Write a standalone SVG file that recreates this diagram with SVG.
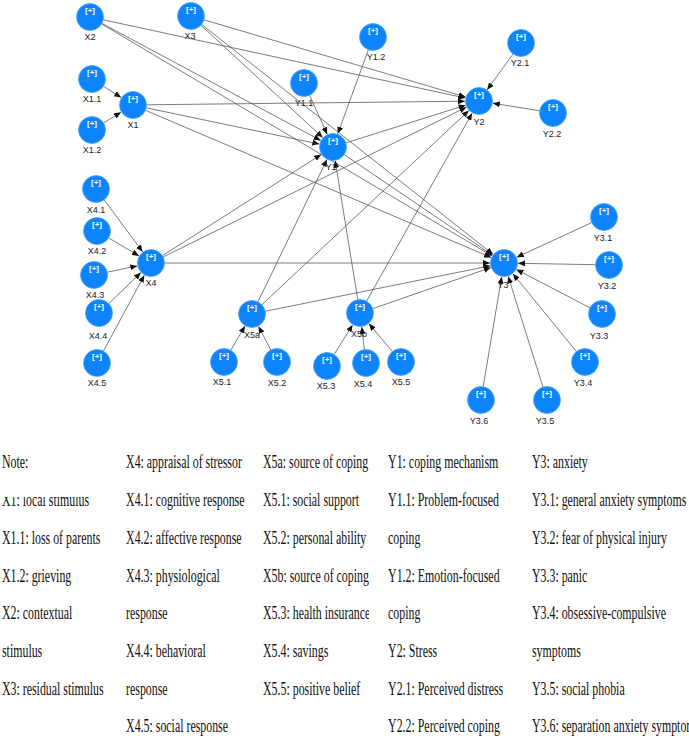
<svg xmlns="http://www.w3.org/2000/svg" width="689" height="740" viewBox="0 0 689 740">
<defs>
<marker id="ah" markerUnits="userSpaceOnUse" markerWidth="7" markerHeight="6" refX="7" refY="3" orient="auto">
<path d="M0,0 L7,3 L0,6 z" fill="#111"/>
</marker>
<clipPath id="clipX1"><rect x="0" y="497" width="120" height="20"/></clipPath>
<clipPath id="clipC3"><rect x="255" y="440" width="114" height="300"/></clipPath>
<style>
.e{stroke:#5a5a5a;stroke-width:0.8;fill:none;marker-end:url(#ah)}
.n circle{fill:#0d84fb;stroke:#4da3fb;stroke-width:0.8}
.n .p{font-family:"Liberation Sans",Arial,sans-serif;font-size:8px;font-weight:bold;fill:#fff;text-anchor:middle}
.n .l{font-family:"Liberation Sans",Arial,sans-serif;font-size:9px;fill:#222;text-anchor:middle}
.lg text{font-family:"Liberation Serif","Times New Roman",serif;font-size:18px;fill:#111}
</style>
</defs>
<rect width="689" height="740" fill="#fff"/>
<g id="connectors">
<line class="e" x1="103.4" y1="86.2" x2="121.2" y2="97.5"/>
<line class="e" x1="103.5" y1="123.0" x2="121.0" y2="112.3"/>
<line class="e" x1="104.1" y1="199.8" x2="142.6" y2="251.8"/>
<line class="e" x1="108.6" y1="237.9" x2="139.0" y2="255.9"/>
<line class="e" x1="107.2" y1="272.2" x2="137.3" y2="265.9"/>
<line class="e" x1="108.7" y1="303.6" x2="140.9" y2="272.7"/>
<line class="e" x1="103.4" y1="351.1" x2="144.3" y2="275.3"/>
<line class="e" x1="230.8" y1="350.3" x2="245.0" y2="326.1"/>
<line class="e" x1="270.8" y1="350.0" x2="258.5" y2="326.4"/>
<line class="e" x1="334.1" y1="354.5" x2="352.6" y2="324.9"/>
<line class="e" x1="364.4" y1="349.6" x2="361.7" y2="326.9"/>
<line class="e" x1="392.3" y1="351.6" x2="369.0" y2="323.7"/>
<line class="e" x1="309.6" y1="95.3" x2="327.2" y2="134.2"/>
<line class="e" x1="368.4" y1="49.7" x2="337.8" y2="133.8"/>
<line class="e" x1="513.1" y1="53.9" x2="487.2" y2="89.7"/>
<line class="e" x1="539.7" y1="110.8" x2="492.8" y2="103.2"/>
<line class="e" x1="591.7" y1="222.6" x2="516.7" y2="257.2"/>
<line class="e" x1="595.5" y1="264.7" x2="518.0" y2="263.3"/>
<line class="e" x1="590.0" y1="307.8" x2="516.4" y2="269.5"/>
<line class="e" x1="576.5" y1="351.6" x2="512.9" y2="273.8"/>
<line class="e" x1="543.0" y1="387.1" x2="508.2" y2="276.4"/>
<line class="e" x1="483.2" y1="386.7" x2="501.7" y2="276.8"/>
<line class="e" x1="146.2" y1="107.8" x2="319.3" y2="144.1"/>
<line class="e" x1="146.5" y1="104.8" x2="465.0" y2="101.2"/>
<line class="e" x1="145.4" y1="110.3" x2="491.1" y2="257.5"/>
<line class="e" x1="101.9" y1="23.4" x2="320.7" y2="140.4"/>
<line class="e" x1="103.2" y1="19.8" x2="465.3" y2="98.0"/>
<line class="e" x1="101.6" y1="23.9" x2="492.0" y2="255.9"/>
<line class="e" x1="200.9" y1="25.2" x2="322.7" y2="137.5"/>
<line class="e" x1="203.9" y1="19.8" x2="465.6" y2="97.0"/>
<line class="e" x1="201.6" y1="24.4" x2="493.0" y2="254.3"/>
<line class="e" x1="162.4" y1="255.7" x2="321.2" y2="154.5"/>
<line class="e" x1="163.1" y1="257.0" x2="466.4" y2="107.2"/>
<line class="e" x1="164.5" y1="263" x2="490" y2="263"/>
<line class="e" x1="257.9" y1="301.9" x2="326.9" y2="159.6"/>
<line class="e" x1="261.8" y1="304.8" x2="468.8" y2="110.6"/>
<line class="e" x1="265.2" y1="311.3" x2="490.3" y2="265.8"/>
<line class="e" x1="357.8" y1="299.7" x2="335.2" y2="160.8"/>
<line class="e" x1="366.6" y1="301.2" x2="472.1" y2="113.2"/>
<line class="e" x1="372.8" y1="308.6" x2="490.8" y2="267.6"/>
<line class="e" x1="345.9" y1="142.9" x2="465.6" y2="105.2"/>
<line class="e" x1="344.2" y1="154.6" x2="492.4" y2="255.1"/>
</g>
<g id="X2" class="n"><circle cx="90" cy="17" r="13.5"/><text class="p" x="90" y="13">[+]</text><text class="l" x="90" y="40">X2</text></g>
<g id="X3" class="n"><circle cx="191" cy="16" r="13.5"/><text class="p" x="191" y="12">[+]</text><text class="l" x="190" y="39">X3</text></g>
<g id="X1.1" class="n"><circle cx="92" cy="79" r="13.5"/><text class="p" x="92" y="75">[+]</text><text class="l" x="92" y="102">X1.1</text></g>
<g id="X1" class="n"><circle cx="133" cy="105" r="13.5"/><text class="p" x="133" y="101">[+]</text><text class="l" x="133" y="128">X1</text></g>
<g id="X1.2" class="n"><circle cx="92" cy="130" r="13.5"/><text class="p" x="92" y="126">[+]</text><text class="l" x="92" y="153">X1.2</text></g>
<g id="Y1.2" class="n"><circle cx="373" cy="37" r="13.5"/><text class="p" x="373" y="33">[+]</text><text class="l" x="376" y="60">Y1.2</text></g>
<g id="Y1.1" class="n"><circle cx="304" cy="83" r="13.5"/><text class="p" x="304" y="79">[+]</text><text class="l" x="304" y="106">Y1.1</text></g>
<g id="Y1" class="n"><circle cx="333" cy="147" r="13.5"/><text class="p" x="333" y="143">[+]</text><text class="l" x="331" y="170">Y1</text></g>
<g id="Y2" class="n"><circle cx="479" cy="101" r="13.5"/><text class="p" x="479" y="97">[+]</text><text class="l" x="479" y="125">Y2</text></g>
<g id="Y2.1" class="n"><circle cx="521" cy="43" r="13.5"/><text class="p" x="521" y="39">[+]</text><text class="l" x="520" y="66">Y2.1</text></g>
<g id="Y2.2" class="n"><circle cx="553" cy="113" r="13.5"/><text class="p" x="553" y="109">[+]</text><text class="l" x="552" y="137">Y2.2</text></g>
<g id="X4.1" class="n"><circle cx="96" cy="189" r="13.5"/><text class="p" x="96" y="185">[+]</text><text class="l" x="96" y="213">X4.1</text></g>
<g id="X4.2" class="n"><circle cx="97" cy="231" r="13.5"/><text class="p" x="97" y="227">[+]</text><text class="l" x="97" y="254">X4.2</text></g>
<g id="X4.3" class="n"><circle cx="94" cy="275" r="13.5"/><text class="p" x="94" y="271">[+]</text><text class="l" x="95" y="298">X4.3</text></g>
<g id="X4.4" class="n"><circle cx="99" cy="313" r="13.5"/><text class="p" x="99" y="309">[+]</text><text class="l" x="98" y="339">X4.4</text></g>
<g id="X4.5" class="n"><circle cx="97" cy="363" r="13.5"/><text class="p" x="97" y="359">[+]</text><text class="l" x="97" y="386">X4.5</text></g>
<g id="X4" class="n"><circle cx="151" cy="263" r="13.5"/><text class="p" x="151" y="259">[+]</text><text class="l" x="151" y="286">X4</text></g>
<g id="X5a" class="n"><circle cx="252" cy="314" r="13.5"/><text class="p" x="252" y="310">[+]</text><text class="l" x="252" y="338">X5a</text></g>
<g id="X5b" class="n"><circle cx="360" cy="313" r="13.5"/><text class="p" x="360" y="309">[+]</text><text class="l" x="359" y="337">X5b</text></g>
<g id="X5.1" class="n"><circle cx="224" cy="362" r="13.5"/><text class="p" x="224" y="358">[+]</text><text class="l" x="222" y="385">X5.1</text></g>
<g id="X5.2" class="n"><circle cx="277" cy="362" r="13.5"/><text class="p" x="277" y="358">[+]</text><text class="l" x="277" y="386">X5.2</text></g>
<g id="X5.3" class="n"><circle cx="327" cy="366" r="13.5"/><text class="p" x="327" y="362">[+]</text><text class="l" x="326" y="389">X5.3</text></g>
<g id="X5.4" class="n"><circle cx="366" cy="363" r="13.5"/><text class="p" x="366" y="359">[+]</text><text class="l" x="363" y="387">X5.4</text></g>
<g id="X5.5" class="n"><circle cx="401" cy="362" r="13.5"/><text class="p" x="401" y="358">[+]</text><text class="l" x="401" y="385">X5.5</text></g>
<g id="Y3" class="n"><circle cx="504" cy="263" r="13.5"/><text class="p" x="504" y="259">[+]</text><text class="l" x="503" y="288">Y3</text></g>
<g id="Y3.1" class="n"><circle cx="604" cy="217" r="13.5"/><text class="p" x="604" y="213">[+]</text><text class="l" x="603" y="241">Y3.1</text></g>
<g id="Y3.2" class="n"><circle cx="609" cy="265" r="13.5"/><text class="p" x="609" y="261">[+]</text><text class="l" x="607" y="289">Y3.2</text></g>
<g id="Y3.3" class="n"><circle cx="602" cy="314" r="13.5"/><text class="p" x="602" y="310">[+]</text><text class="l" x="599" y="339">Y3.3</text></g>
<g id="Y3.4" class="n"><circle cx="585" cy="362" r="13.5"/><text class="p" x="585" y="358">[+]</text><text class="l" x="583" y="386">Y3.4</text></g>
<g id="Y3.5" class="n"><circle cx="547" cy="400" r="13.5"/><text class="p" x="547" y="396">[+]</text><text class="l" x="545" y="424">Y3.5</text></g>
<g id="Y3.6" class="n"><circle cx="481" cy="400" r="13.5"/><text class="p" x="481" y="396">[+]</text><text class="l" x="479" y="424">Y3.6</text></g>
<g id="legend" class="lg">
<g transform="scale(0.66 1)">
<text x="3" y="468">Note:</text>
</g>
<g clip-path="url(#clipX1)"><g transform="scale(0.66 1)"><text x="3" y="506">X1: local stimulus</text></g></g>
<g transform="scale(0.66 1)">
<text x="3" y="544">X1.1: loss of parents</text>
<text x="3" y="582">X1.2: grieving</text>
<text x="3" y="619">X2: contextual</text>
<text x="3" y="657">stimulus</text>
<text x="3" y="695">X3: residual stimulus</text>
<text x="191" y="468">X4: appraisal of stressor</text>
<text x="191" y="506">X4.1: cognitive response</text>
<text x="191" y="544">X4.2: affective response</text>
<text x="191" y="582">X4.3: physiological</text>
<text x="191" y="619">response</text>
<text x="191" y="657">X4.4: behavioral</text>
<text x="191" y="695">response</text>
<text x="191" y="732">X4.5: social response</text>
</g>
<g clip-path="url(#clipC3)"><g transform="scale(0.66 1)">
<text x="398.5" y="468">X5a: source of coping</text>
<text x="398.5" y="506">X5.1: social support</text>
<text x="398.5" y="544">X5.2: personal ability</text>
<text x="398.5" y="582">X5b: source of coping</text>
<text x="398.5" y="619">X5.3: health insurance</text>
<text x="398.5" y="657">X5.4: savings</text>
<text x="398.5" y="695">X5.5: positive belief</text>
</g></g>
<g transform="scale(0.66 1)">
<text x="588" y="468">Y1: coping mechanism</text>
<text x="588" y="506">Y1.1: Problem-focused</text>
<text x="588" y="544">coping</text>
<text x="588" y="582">Y1.2: Emotion-focused</text>
<text x="588" y="619">coping</text>
<text x="588" y="657">Y2: Stress</text>
<text x="588" y="695">Y2.1: Perceived distress</text>
<text x="588" y="732">Y2.2: Perceived coping</text>
<text x="806" y="468">Y3: anxiety</text>
<text x="806" y="506">Y3.1: general anxiety symptoms</text>
<text x="806" y="544">Y3.2: fear of physical injury</text>
<text x="806" y="582">Y3.3: panic</text>
<text x="806" y="619">Y3.4: obsessive-compulsive</text>
<text x="806" y="657">symptoms</text>
<text x="806" y="695">Y3.5: social phobia</text>
<text x="806" y="732">Y3.6: separation anxiety symptoms</text>
</g>
</g>
</svg>
